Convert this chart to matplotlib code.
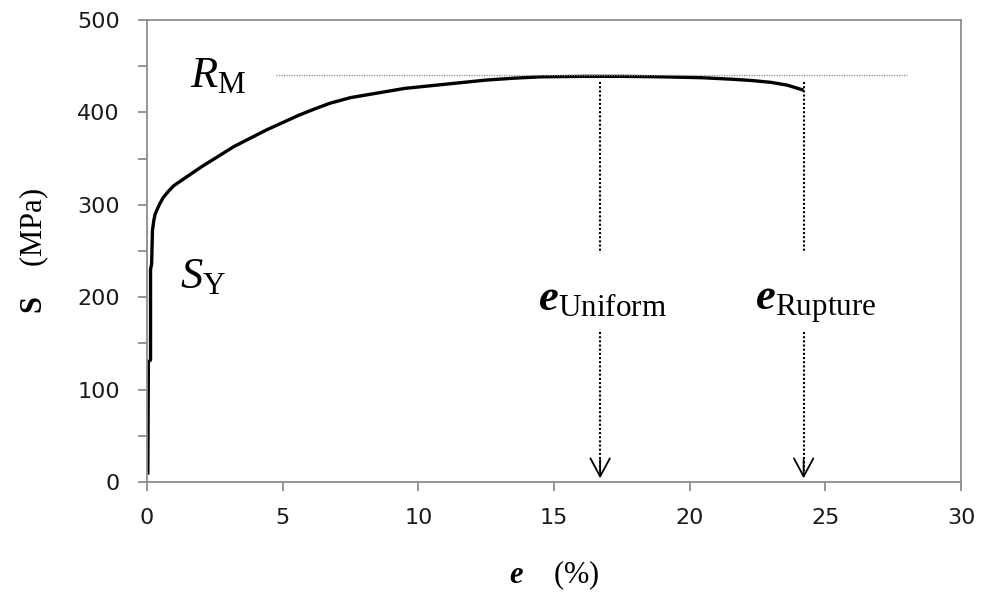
import matplotlib
matplotlib.use("Agg")
import matplotlib.pyplot as plt
from matplotlib.ticker import MultipleLocator

# Engineering stress-strain curve (strain in %, stress in MPa)
strain = [0.03, 0.05, 0.13, 0.13, 0.17, 0.20, 0.25, 0.30, 0.45, 0.60, 0.80, 1.0,
          1.5, 2.0, 2.6, 3.2, 3.8, 4.4, 5.0, 5.6, 6.2, 6.75, 7.5, 8.5, 9.5,
          10.5, 11.5, 12.5, 13.5, 14.5, 16.0, 17.5, 19.0, 20.5, 21.5, 22.3,
          23.0, 23.6, 24.2]
stress = [8, 130, 132, 230, 236, 272, 283, 290, 300, 308, 315, 321,
          331, 341, 352, 363, 372, 381, 389, 397, 404, 410, 416, 421, 426,
          429, 432, 435, 437, 438.5, 439, 439, 438.5, 437.5, 436, 434.5,
          432.5, 429.5, 424]

r_m = 440          # ultimate strength line
r_m_span = [4.75, 28.0]
e_uniform = 16.7
e_rupture = 24.2

plt.rcParams["mathtext.fontset"] = "custom"
plt.rcParams["mathtext.rm"] = "Liberation Serif"
plt.rcParams["mathtext.it"] = "Liberation Serif:italic"
plt.rcParams["mathtext.bf"] = "Liberation Serif:bold"
plt.rcParams["mathtext.bfit"] = "Liberation Serif:italic:bold"

fig = plt.figure(figsize=(9.9, 5.92), dpi=100)
ax = fig.add_axes([0.1485, 0.1858, 0.8222, 0.7804])

ax.plot(strain, stress, color="black", lw=2.4, solid_joinstyle="round",
        solid_capstyle="butt")
ax.plot(r_m_span, [r_m, r_m], color="#8a8a8a", lw=0.9, linestyle=(0, (1, 1)))

# dotted markers for uniform and rupture strain, broken around the labels
for xe in (e_uniform, e_rupture):
    ax.plot([xe, xe], [433, 248], color="black", lw=1.5, linestyle=(0, (1, 1)))
    ax.plot([xe, xe], [162, 12], color="black", lw=1.5, linestyle=(0, (1, 1)))
    ax.annotate("", xy=(xe, 4), xytext=(xe, 24),
                arrowprops=dict(arrowstyle="->,head_length=1.3,head_width=0.7",
                                lw=1.3, color="black", shrinkA=0, shrinkB=0))

big = 32
ax.text(1.6, 427, r"$R_{\mathrm{M}}$", fontsize=big, va="baseline")
ax.text(1.2, 210, r"$S_{\mathrm{Y}}$", fontsize=big, va="baseline")
ax.text(14.4, 186, r"$\mathbfit{e}_{\mathrm{Uniform}}$", fontsize=big, va="baseline")
ax.text(22.4, 186, r"$\mathbfit{e}_{\mathrm{Rupture}}$", fontsize=big, va="baseline")

ax.set_xlim(0, 30)
ax.set_ylim(0, 500)
ax.xaxis.set_major_locator(MultipleLocator(5))
ax.yaxis.set_major_locator(MultipleLocator(100))
ax.yaxis.set_minor_locator(MultipleLocator(50))

for s in ax.spines.values():
    s.set_color("#8c8c8c")
    s.set_linewidth(1.3)
ax.tick_params(which="both", direction="out", length=6.5, width=1.3, color="#8c8c8c",
               labelsize=16, labelcolor="#1a1a1a")
ax.tick_params(axis="y", which="both", pad=13)
ax.tick_params(axis="x", pad=12)
ax.tick_params(axis="x", which="minor", length=0)

ax.set_xlabel(r"$\mathbfit{e}$    (%)", fontsize=22, family="Liberation Serif", labelpad=22)
ax.set_ylabel(r"$\mathbf{S}$    (MPa)", fontsize=22, family="Liberation Serif", labelpad=19)

fig.savefig("out.png", dpi=100)
